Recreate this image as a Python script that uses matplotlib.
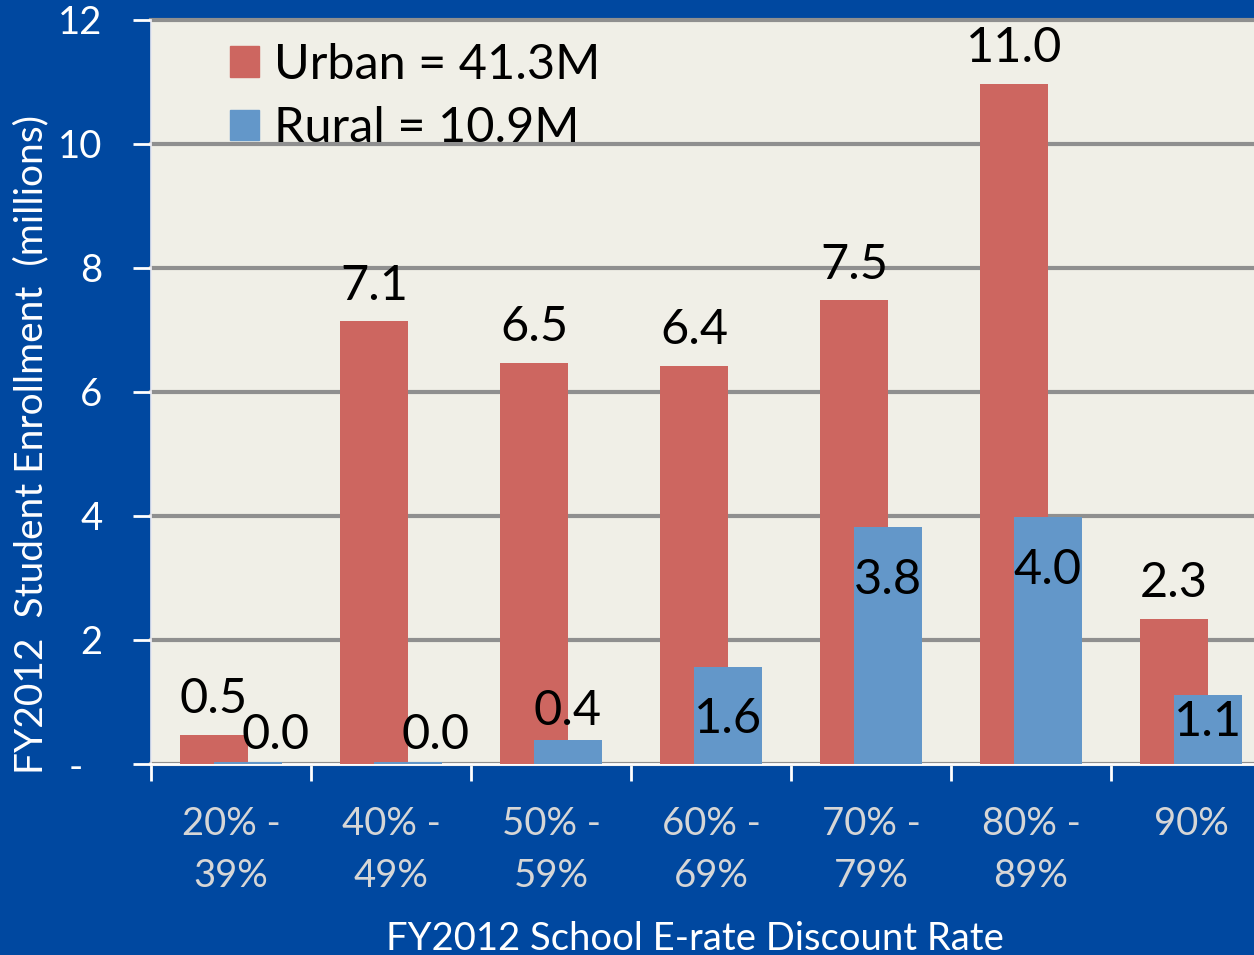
import matplotlib
matplotlib.use('Agg')
from matplotlib import pyplot as plt
from matplotlib.patches import Patch
import numpy as np

# data (millions of students)
categories = ['20% -\n39%', '40% -\n49%', '50% -\n59%', '60% -\n69%',
              '70% -\n79%', '80% -\n89%', '90%']
urban = [0.47, 7.14, 6.47, 6.42, 7.48, 10.97, 2.34]
rural = [0.03, 0.04, 0.38, 1.57, 3.82, 3.98, 1.12]
legend_labels = ['Urban = 41.3M', 'Rural = 10.9M']
yticks = [0, 2, 4, 6, 8, 10, 12]
ytick_labels = ['-  ', '2', '4', '6', '8', '10', '12']

BG = '#0048A0'
PLOT_BG = '#F0EFE7'
RED = '#CD6660'
BLUE = '#6397C9'
GRID = '#8F8F8F'

plt.rcParams['font.family'] = ['Lato', 'DejaVu Sans']

W, H = 1254, 955
fig = plt.figure(figsize=(W / 100, H / 100), dpi=100, facecolor=BG)
# plot area: 151..1254 px across, 20..764 px down
ax = fig.add_axes([151 / W, (H - 764) / H, (W - 151) / W, 744 / H])
ax.set_facecolor(PLOT_BG)

x = np.arange(len(categories))
width = 0.425
off = 0.106

ax.bar(x - off, urban, width, color=RED, zorder=3)
ax.bar(x + off, rural, width, color=BLUE, zorder=4)

lab_size = 35
for xi, v in zip(x, urban):
    ax.text(xi - off, v + 0.22, '%.1f' % v, ha='center', va='bottom',
            fontsize=lab_size, color='black', zorder=5)
for xi, v in zip(x, rural):
    if v < 0.1:
        ax.text(xi + off + 0.17, v + 0.08, '%.1f' % v, ha='center', va='bottom',
                fontsize=lab_size, color='black', zorder=5)
    elif v < 1:
        ax.text(xi + off, v + 0.12, '%.1f' % v, ha='center', va='bottom',
                fontsize=lab_size, color='black', zorder=5)
    else:
        ax.text(xi + off, max(v - 0.85, 0.68), '%.1f' % v, ha='center',
                va='center', fontsize=lab_size, color='black', zorder=5)

ax.set_xlim(-0.5, 6.5 - 17 / 160)
ax.set_ylim(0, 12)
ax.set_yticks(yticks)
ax.set_yticklabels(ytick_labels)
ax.yaxis.grid(True, color=GRID, linewidth=3, zorder=1)
for gl in ax.get_ygridlines():
    gl.set_clip_on(False)
ax.set_axisbelow(True)

ax.set_xticks(x)
ax.set_xticklabels(categories, linespacing=1.55)
ax.set_xticks(np.arange(-0.5, 6.5, 1.0), minor=True)
ax.tick_params(axis='x', which='major', length=0, pad=30,
               labelsize=27.5, labelcolor='#D6D6D6')
ax.tick_params(axis='x', which='minor', length=12, width=2, color='white',
               direction='out')
ax.tick_params(axis='y', length=13, width=2, color='white', pad=22,
               labelsize=27.5, labelcolor='white')

for s in ['top', 'right']:
    ax.spines[s].set_visible(False)
ax.spines['bottom'].set_color('white')
ax.spines['bottom'].set_linewidth(2)
ax.spines['left'].set_color('#E8E8F0')
ax.spines['left'].set_linewidth(1.2)

handles = [Patch(color=RED), Patch(color=BLUE)]
ax.legend(handles, legend_labels, loc='upper left',
          bbox_to_anchor=(0.043, 1.012), frameon=False, fontsize=35,
          handlelength=0.6, handleheight=0.6, handletextpad=0.3,
          labelspacing=0.4, borderaxespad=0.25)

fig.text(31 / W, 1 - 445 / H, 'FY2012  Student Enrollment  (millions)',
         rotation=90, ha='center', va='center', fontsize=28, color='white')
fig.text(695 / W, 1 - 939 / H, 'FY2012 School E-rate Discount Rate',
         ha='center', va='center', fontsize=27.5, color='white')

fig.savefig('out.png', dpi=100, facecolor=BG)
